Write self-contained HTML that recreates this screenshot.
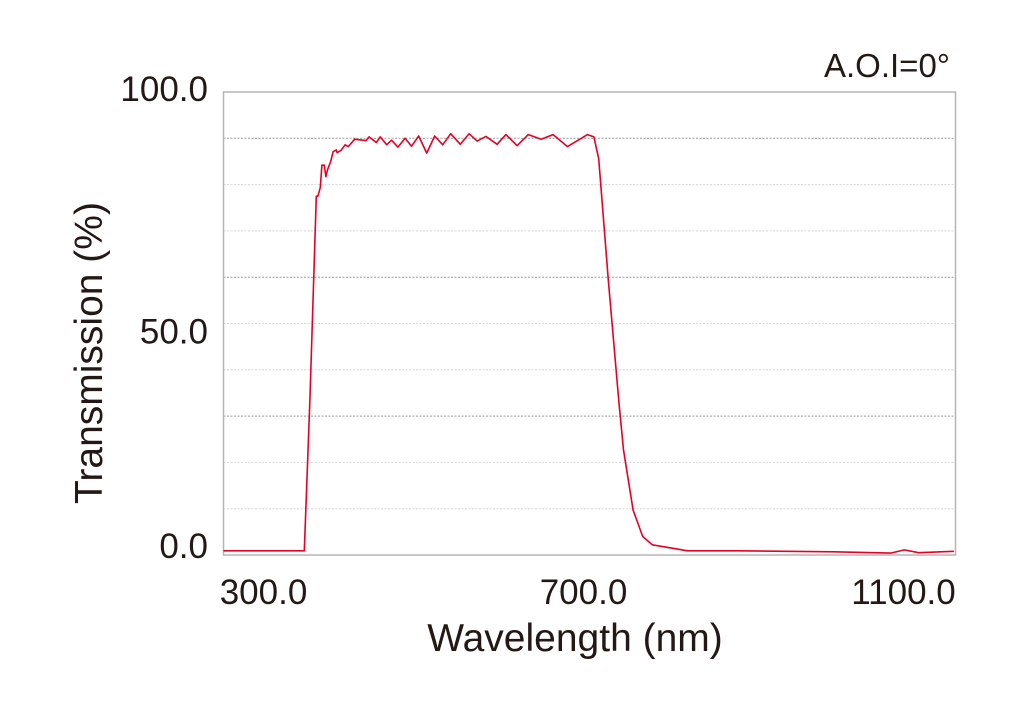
<!DOCTYPE html>
<html><head><meta charset="utf-8"><style>
html,body{margin:0;padding:0;background:#fff;}
svg{display:block;}
text{font-family:"Liberation Sans Narrow","Liberation Sans",sans-serif;fill:#231815;}
</style></head><body>
<svg id="chart" width="1024" height="704" viewBox="0 0 1024 704" xmlns="http://www.w3.org/2000/svg">
<g id="grid"></g>
<rect x="223.5" y="92" width="732" height="463" fill="none" stroke="#b5b5b5" stroke-width="1.5"/>
<path id="curve" fill="none" stroke="#e60026" stroke-width="1.6" stroke-linejoin="round"/>
<g id="yticks"></g>
<g id="xticks"></g>
<text x="575" y="651" font-size="39" text-anchor="middle">Wavelength (nm)</text>
<text x="0" y="0" font-size="39" text-anchor="middle" transform="translate(102 353) rotate(-90)">Transmission (%)</text>
<text x="950" y="77" font-size="33" text-anchor="end">A.O.I=0°</text>
</svg>
<script>
const wavelengths=[250,351,358,366,368,371,373,376,378,380,384,387,391,392,397,402,406,414,428,432,441,446,454,460,468,477,485,494,504,514,524,534,546,557,567,578,592,603,617,631,647,662,680,705,713,719,731,744,750,762,774,786,830,895,1013,1084,1101,1119,1163];
const transmission=[0.9,0.9,33.5,77.5,77.5,79.4,84.2,84.2,81.7,83.2,85,87.1,87.5,86.9,87.4,88.6,88.2,89.8,89.5,90.3,89.1,90.3,88.6,89.6,88.1,90,88.3,90.5,86.8,90.5,88.6,91,88.7,91,89.4,90.4,88.7,90.8,88.4,90.8,89.8,90.8,88.2,90.8,90.3,85.6,59.4,33.5,22.7,9.7,4,2.2,0.9,0.9,0.7,0.4,1.1,0.5,0.8];
const yTicks=[0,50,100];
const yTickLabels=["0.0","50.0","100.0"];
const xTicks=[300,700,1100];
const xTickLabels=["300.0","700.0","1100.0"];
const gridVals=[10,20,30,40,50,60,70,80,90];
const X0=223.5,X1=955.5,Y0=555,Y1=92,NM0=250,NM1=1165;
function xs(v){return X0+(v-NM0)/(NM1-NM0)*(X1-X0);}
function ys(v){return Y0-(v/100)*(Y0-Y1);}
const NS="http://www.w3.org/2000/svg";
const grid=document.getElementById('grid');
gridVals.forEach(g=>{
 const l=document.createElementNS(NS,'line');
 
 
 l.setAttribute('x1',X0);l.setAttribute('x2',X1);
 l.setAttribute('y1',ys(g));l.setAttribute('y2',ys(g));
 const dark=(g%30===0);
 l.setAttribute('stroke',dark?'#9a9a9a':'#d6d6d6');
 l.setAttribute('stroke-width','1');
 l.setAttribute('stroke-dasharray','2,1.5');
 grid.appendChild(l);
});
let d='';
wavelengths.forEach((w,i)=>{d+=(i?'L':'M')+xs(w).toFixed(1)+' '+ys(transmission[i]).toFixed(1);});
document.getElementById('curve').setAttribute('d',d);
const yt=document.getElementById('yticks');
yTicks.forEach((v,i)=>{
 const t=document.createElementNS(NS,'text');
 
 
 const yy=(v===0?ys(v)-10:(v===100?ys(v)-4:ys(v)+7))+13;
 t.setAttribute('x',208);t.setAttribute('y',yy);
 t.setAttribute('font-size','35');t.setAttribute('text-anchor','end');
 t.textContent=yTickLabels[i];yt.appendChild(t);
});
const xt=document.getElementById('xticks');
xTicks.forEach((v,i)=>{
 const t=document.createElementNS(NS,'text');
 
 
 t.setAttribute('x',xs(v));t.setAttribute('y',604);
 t.setAttribute('font-size','35');t.setAttribute('text-anchor','middle');
 t.textContent=xTickLabels[i];xt.appendChild(t);
});
</script>
</body></html>
